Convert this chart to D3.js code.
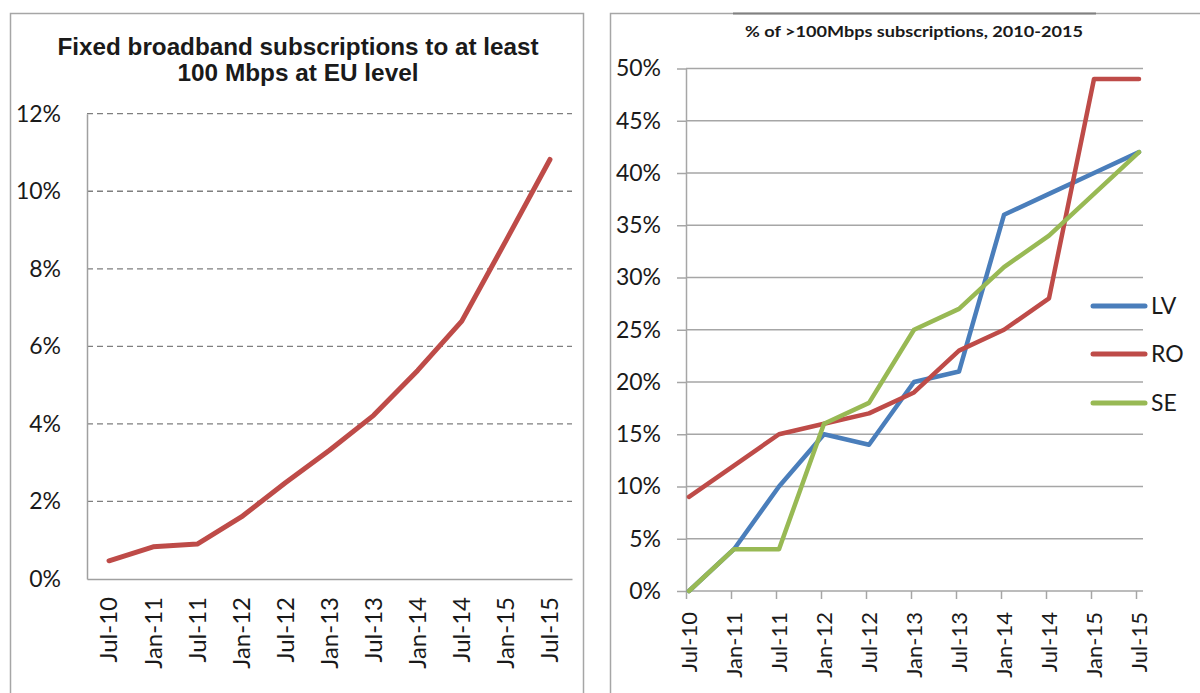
<!DOCTYPE html>
<html><head><meta charset="utf-8">
<script src="https://cdn.jsdelivr.net/npm/d3@7"></script>
<style>
body{margin:0;background:#fff;}
svg{display:block;}
</style></head>
<body>
<svg id="c" width="1200" height="693"></svg>
<script>
const months = ["Jul-10","Jan-11","Jul-11","Jan-12","Jul-12","Jan-13","Jul-13","Jan-14","Jul-14","Jan-15","Jul-15"];
const euValues = [0.47,0.83,0.90,1.60,2.48,3.32,4.22,5.38,6.65,8.72,10.82];
const euTicks = [0,2,4,6,8,10,12];
const lvValues = [0,4,10,15,14,20,21,36,38,40,42];
const roValues = [9,12,15,16,17,19,23,25,28,49,49];
const seValues = [0,4,4,16,18,25,27,31,34,38,42];
const pctTicks = [0,5,10,15,20,25,30,35,40,45,50];
const seriesNames = ["LV","RO","SE"];
const seriesColors = ["#4A7EBB","#BE4B48","#98B954"];

const svg = d3.select("#c");
const numFont = "Lato, 'Open Sans', sans-serif";

// ---------- Left panel ----------
svg.append("rect").attr("x",10.5).attr("y",13.5).attr("width",573).attr("height",700)
  .attr("fill","none").attr("stroke","#A6A6A6").attr("stroke-width",1.5);

const L = {x0:87, x1:572, y0:579, y1:113.7};
const xL = d3.scaleBand().domain(months).range([L.x0,L.x1]);
const yL = d3.scaleLinear().domain([0,12]).range([L.y0,L.y1]);

svg.append("text").attr("x",298).attr("y",55).attr("text-anchor","middle")
  .attr("font-family","'Liberation Sans', Arial, sans-serif").attr("font-weight","bold")
  .attr("font-size",24).attr("fill","#1a1a1a").attr("textLength",481).attr("lengthAdjust","spacingAndGlyphs")
  .text("Fixed broadband subscriptions to at least");
svg.append("text").attr("x",298).attr("y",81).attr("text-anchor","middle")
  .attr("font-family","'Liberation Sans', Arial, sans-serif").attr("font-weight","bold")
  .attr("font-size",24).attr("fill","#1a1a1a").attr("textLength",241).attr("lengthAdjust","spacingAndGlyphs")
  .text("100 Mbps at EU level");

// gridlines
svg.append("g").selectAll("line").data(euTicks.filter(d=>d>0)).join("line")
  .attr("x1",L.x0).attr("x2",L.x1).attr("y1",d=>yL(d)).attr("y2",d=>yL(d))
  .attr("stroke","#7F7F7F").attr("stroke-width",1.3).attr("stroke-dasharray","6,4");

// axes
const gyL = svg.append("g").attr("transform",`translate(${L.x0},0)`)
  .call(d3.axisLeft(yL).tickValues(euTicks).tickFormat(d=>d+"%").tickSize(0).tickPadding(26));
gyL.select(".domain").attr("stroke","#A0A0A0").attr("stroke-width",1.5);
gyL.selectAll("text").attr("font-family",numFont).attr("font-size",23).attr("fill","#1a1a1a");

const gxL = svg.append("g").attr("transform",`translate(0,${L.y0})`)
  .call(d3.axisBottom(xL).tickSize(0).tickPadding(0));
gxL.select(".domain").attr("stroke","#A0A0A0").attr("stroke-width",1.5);
gxL.selectAll("text").attr("font-family",numFont).attr("font-size",24).attr("fill","#1a1a1a")
  .attr("transform","rotate(-90)").attr("text-anchor","end").attr("x",-18).attr("y",0).attr("dy","0.35em");

svg.append("path").datum(euValues)
  .attr("d", d3.line().x((d,i)=>xL(months[i])+xL.bandwidth()/2).y(d=>yL(d)))
  .attr("fill","none").attr("stroke","#BE4B48").attr("stroke-width",5).attr("stroke-linejoin","round").attr("stroke-linecap","round");

// ---------- Right panel ----------
svg.append("rect").attr("x",610.5).attr("y",13.5).attr("width",700).attr("height",700)
  .attr("fill","none").attr("stroke","#A6A6A6").attr("stroke-width",1.5);
svg.append("line").attr("x1",733).attr("x2",1096).attr("y1",13.5).attr("y2",13.5)
  .attr("stroke","#808080").attr("stroke-width",2);

const R = {ax:686, x0:689, x1:1139, gEnd:1143, y0:591, y1:68.5};
const xR = d3.scalePoint().domain(months).range([R.x0,R.x1]);
const xRt = d3.scalePoint().domain(months).range([R.x0-3,R.x1-3]);
const yR = d3.scaleLinear().domain([0,50]).range([R.y0,R.y1]);

svg.append("text").attr("x",914).attr("y",37).attr("text-anchor","middle")
  .attr("font-family",numFont).attr("font-weight","bold").attr("font-size",16)
  .attr("fill","#1a1a1a").attr("textLength",338).attr("lengthAdjust","spacingAndGlyphs")
  .text("% of >100Mbps subscriptions, 2010-2015");

svg.append("g").selectAll("line").data(pctTicks.filter(d=>d>0)).join("line")
  .attr("x1",R.ax).attr("x2",R.gEnd).attr("y1",d=>yR(d)).attr("y2",d=>yR(d))
  .attr("stroke","#A6A6A6").attr("stroke-width",1.5);

const gyR = svg.append("g").attr("transform",`translate(${R.ax},0)`)
  .call(d3.axisLeft(yR).tickValues(pctTicks).tickFormat(d=>d+"%").tickSize(9).tickPadding(16).tickSizeOuter(0));
gyR.select(".domain").attr("stroke","#A6A6A6").attr("stroke-width",1.5);
gyR.selectAll(".tick line").attr("stroke","#A6A6A6").attr("stroke-width",1.5);
gyR.selectAll("text").attr("font-family",numFont).attr("font-size",23).attr("fill","#1a1a1a");

const gxR = svg.append("g").attr("transform",`translate(0,${R.y0})`)
  .call(d3.axisBottom(xRt).tickSize(8).tickSizeOuter(0));
gxR.select(".domain").attr("d",`M${R.ax},0H${R.gEnd}`).attr("stroke","#A6A6A6").attr("stroke-width",1.5);
gxR.selectAll(".tick line").attr("stroke","#A6A6A6").attr("stroke-width",1.5);
gxR.selectAll("text").attr("font-family",numFont).attr("font-size",22).attr("fill","#1a1a1a")
  .attr("transform","rotate(-90)").attr("text-anchor","end").attr("x",-21).attr("y",3).attr("dy","0.35em");

const allSeries = [lvValues, roValues, seValues];
const lineR = d3.line().x((d,i)=>xR(months[i])).y(d=>yR(d));
allSeries.forEach((vals,k)=>{
  svg.append("path").datum(vals).attr("d",lineR)
    .attr("fill","none").attr("stroke",seriesColors[k]).attr("stroke-width",4.5)
    .attr("stroke-linejoin","round").attr("stroke-linecap","round");
});

// legend
const legY = [306,354,403];
seriesNames.forEach((n,k)=>{
  svg.append("line").attr("x1",1093).attr("x2",1145).attr("y1",legY[k]).attr("y2",legY[k])
    .attr("stroke",seriesColors[k]).attr("stroke-width",5).attr("stroke-linecap","round");
  svg.append("text").attr("x",1151).attr("y",legY[k]).attr("dy","0.36em")
    .attr("font-family",numFont).attr("font-size",23).attr("fill","#1a1a1a").text(n);
});
</script>
</body></html>
